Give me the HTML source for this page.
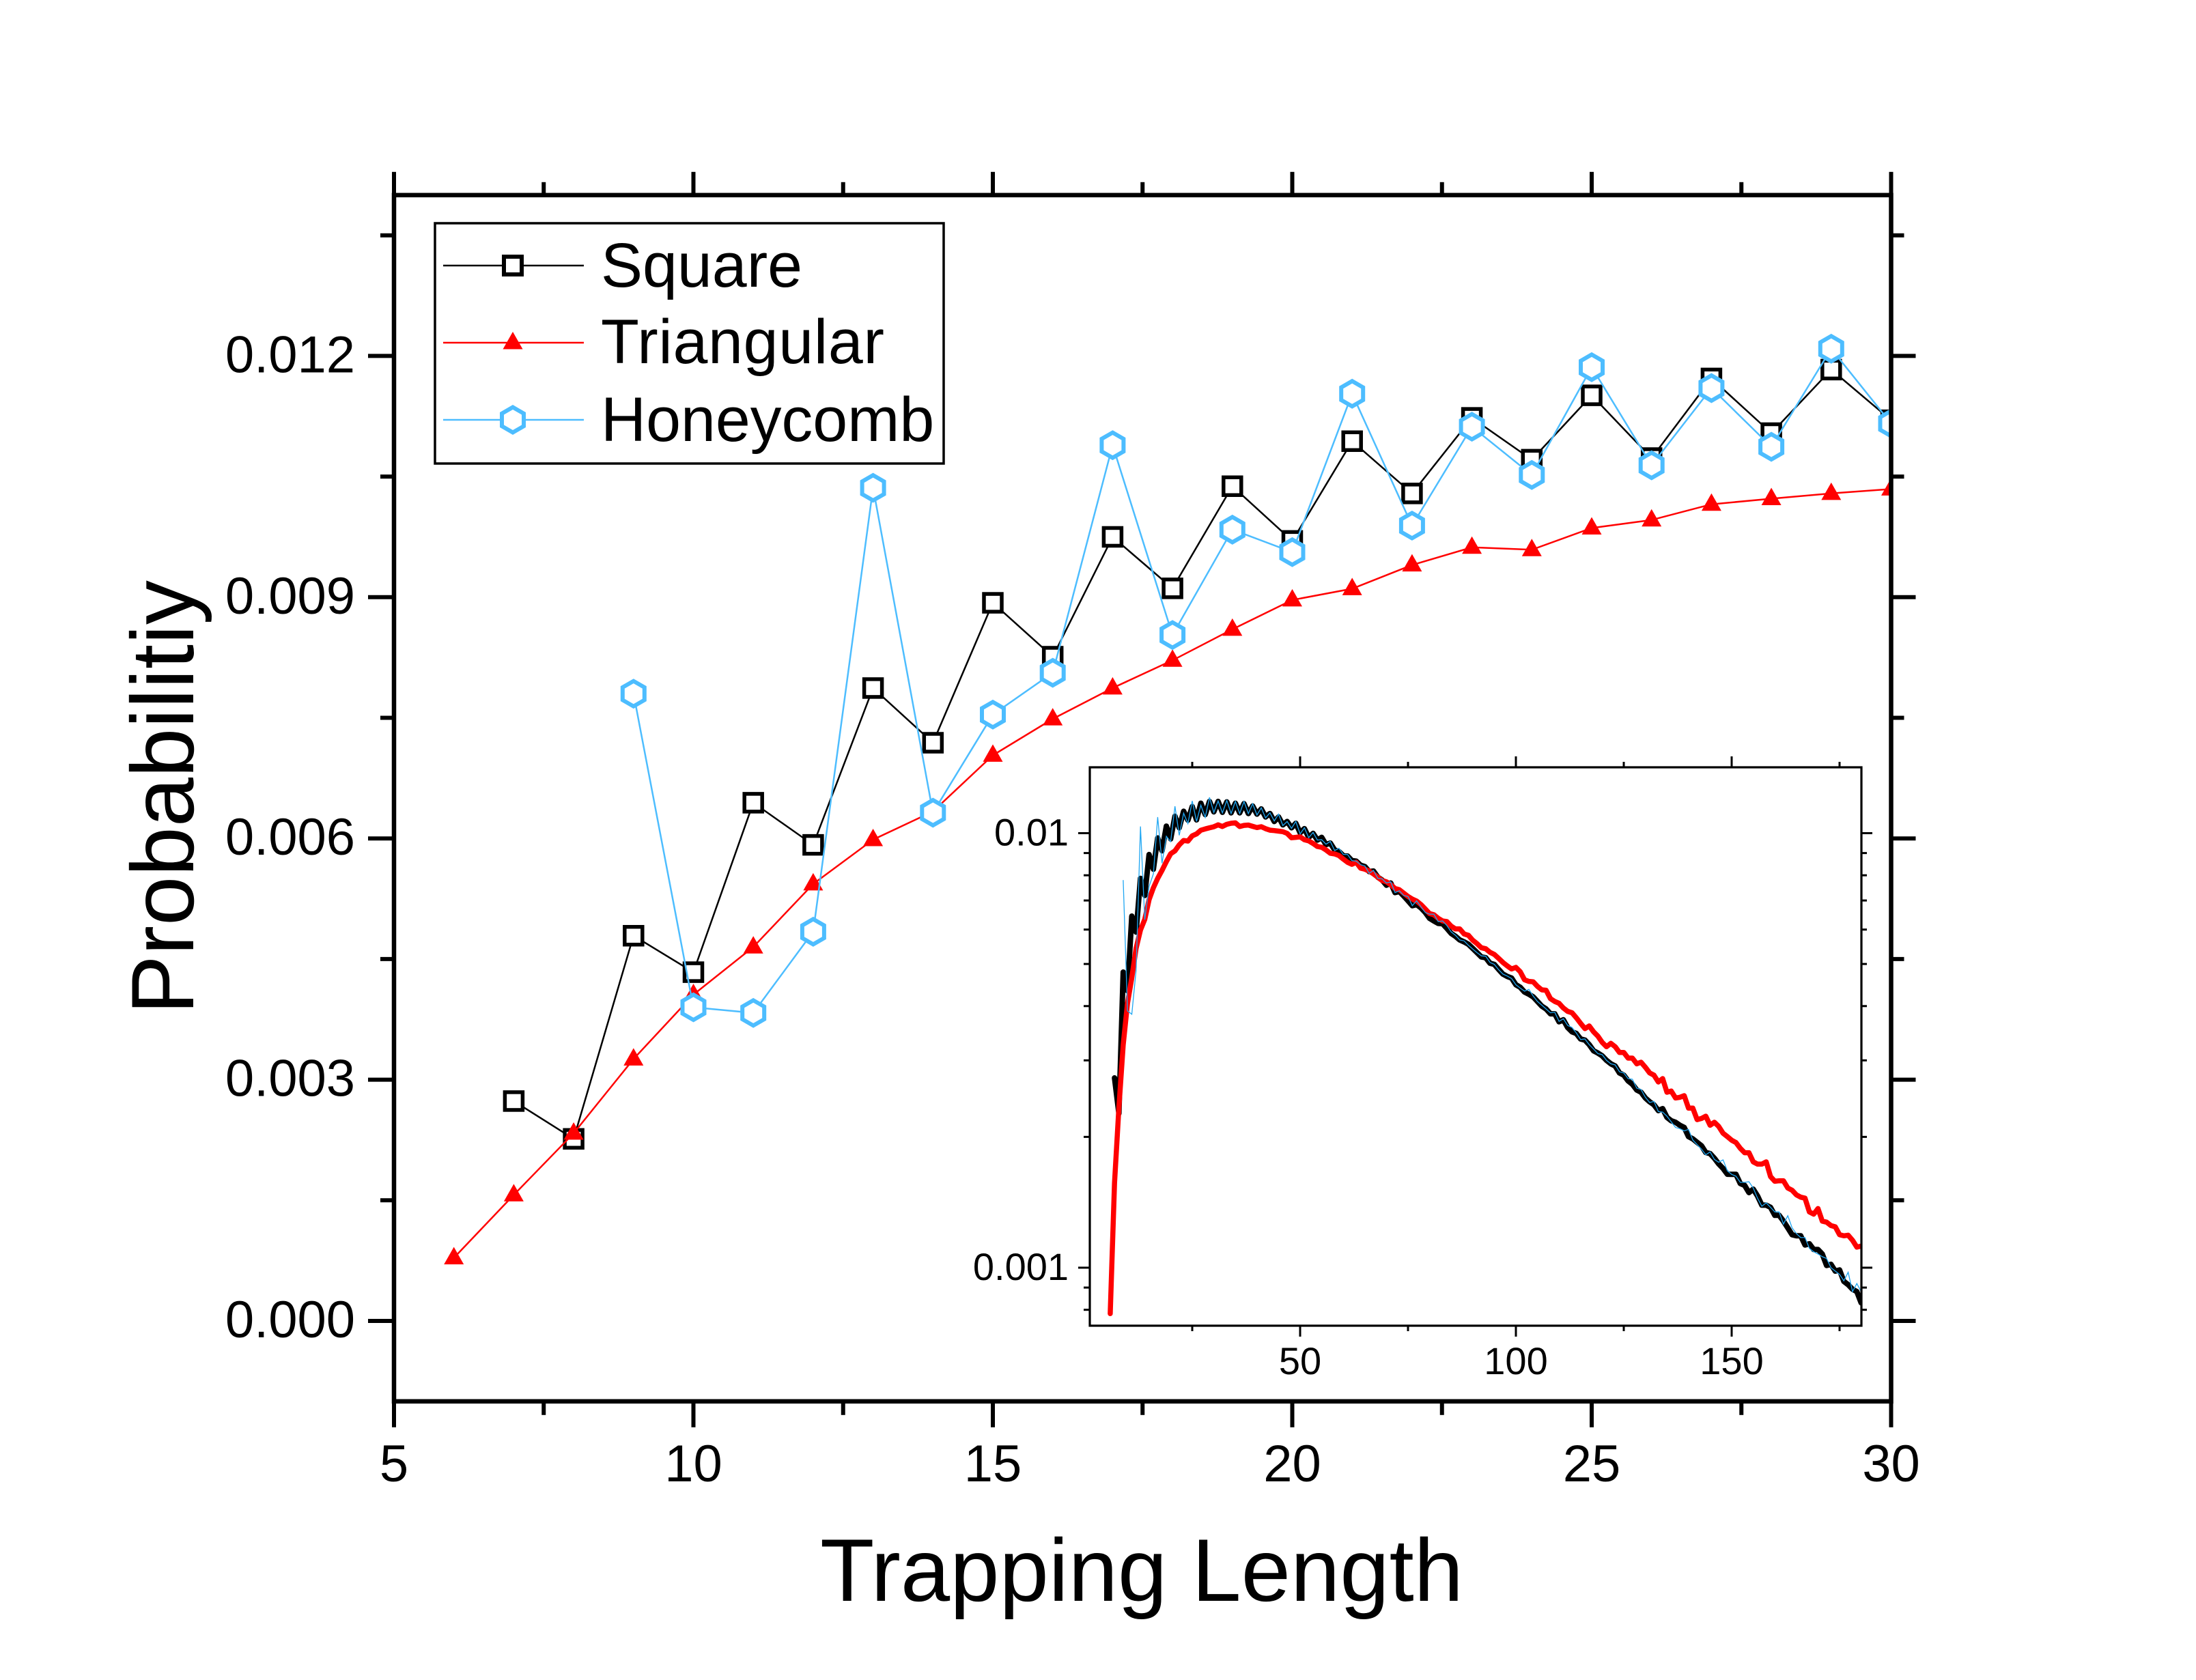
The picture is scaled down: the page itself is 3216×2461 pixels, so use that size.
<!DOCTYPE html>
<html lang="en">
<head>
<meta charset="utf-8">
<title>Probability vs Trapping Length</title>
<style>
html,body{margin:0;padding:0;background:#fff}
svg{display:block}
text{font-family:"Liberation Sans",Arial,sans-serif;fill:#000}
</style>
</head>
<body>
<svg id="chart" xmlns="http://www.w3.org/2000/svg" width="3216" height="2461" viewBox="0 0 3216 2461">
  <defs>
    <clipPath id="main-clip"><rect x="577" y="285" width="2193" height="1767"/></clipPath>
    <clipPath id="inset-clip"><rect x="1596" y="1124" width="1130" height="818"/></clipPath>
  </defs>
  <rect x="0" y="0" width="3216" height="2461" fill="#fff"/>
  <g id="main-series" clip-path="url(#main-clip)"></g>
  <g id="main-axes"></g>
  <text x="1672" y="2345" font-size="130" text-anchor="middle">Trapping Length</text>
  <text x="283" y="1168" font-size="130" text-anchor="middle" transform="rotate(-90 283 1168)">Probabilitiy</text>

  <g>
    <rect x="637" y="327" width="745" height="352" fill="#fff" stroke="#000" stroke-width="3.5"/>
    <g>
      <line x1="649" y1="389" x2="855" y2="389" stroke="#000" stroke-width="2.5"/>
      <rect x="738" y="376" width="26" height="26" fill="#fff" stroke="#000" stroke-width="6"/>
      <text x="880" y="420" font-size="91.5">Square</text>
    </g>
    <g>
      <line x1="649" y1="502" x2="855" y2="502" stroke="#f00" stroke-width="2.5"/>
      <polygon points="751,486 765.5,511.5 736.5,511.5" fill="#f00"/>
      <text x="880" y="532" font-size="91.5" textLength="415" lengthAdjust="spacing">Triangular</text>
    </g>
    <g>
      <line x1="649" y1="615" x2="855" y2="615" stroke="#4dbdff" stroke-width="2.5"/>
      <polygon points="751,596.5 767,605.75 767,624.25 751,633.5 735,624.25 735,605.75" fill="#fff" stroke="#4dbdff" stroke-width="6"/>
      <text x="880" y="646" font-size="91.5">Honeycomb</text>
    </g>
  </g>

  <g id="inset">
    <rect x="1596" y="1124" width="1130" height="818" fill="#fff"/>
    <g id="inset-series" clip-path="url(#inset-clip)"></g>
    <g id="inset-axes"></g>
  </g>
</svg>
<script>
// Main chart data (trapping length -> probability)
const squareLengths = [7,8,9,10,11,12,13,14,15,16,17,18,19,20,21,22,23,24,25,26,27,28,29,30];
const squareValues = [.002734,.002264,.00479,.004337,.006444,.00592,.00787,.00719,.00893,.00826,.00975,.00911,.01038,.0097,.01094,.01029,.01123,.01071,.01151,.01073,.01172,.01104,.01183,.0112];
const triangularLengths = [6,7,8,9,10,11,12,13,14,15,16,17,18,19,20,21,22,23,24,25,26,27,28,29,30];
const triangularValues = [.000784,.001567,.002334,.003257,.004058,.00465,.005434,.005985,.006335,.007034,.007486,.00787,.008215,.0086,.008965,.009105,.0094,.00962,.00959,.00986,.00996,.010155,.010225,.01029,.010345];
const honeycombLengths = [9,10,11,12,13,14,15,16,17,18,19,20,21,22,23,24,25,26,27,28,29,30];
const honeycombValues = [.0078,.0039,.00383,.00484,.01036,.00632,.00754,.00806,.01089,.00853,.00984,.00956,.01153,.00989,.01112,.01052,.01186,.01064,.0116,.01087,.01209,.01116];

// Inset data: continues the series above for lengths 31..180
const insetFirstTailLength = 31;
const insetSquareTail = [
 .01183,.01117,.0118,.01114,.01172,.01114,.01169,.0111,.01155,.01106,.01137,.0109,.0111,.01064,.0109,.01045,.01064,.01029,.01054,.01002,.01024,.00978,.00999,.00964,.00978,.00941,.00949,.00915,.00907,.00888,
 .00886,.00865,.00862,.00844,.00838,.00816,.00818,.00792,.0078,.00759,.00768,.0073,.00734,.00717,.00699,.00681,.00685,.00673,.00657,.00637,.00628,.0062,.00619,.00604,.00588,.00579,
 .00568,.00562,.00555,.00543,.00531,
 .00519,.00517,.00502,.00499,.00486,.00474,.00468,.00464,.00448,.00442,.00431,.00426,.0042,.0041,.004,.00394,.00384,.00384,.00368,.00372,.00357,.00349,.00346,.00336,.00334,.00326,
 .003156,.003118,.003073,.003,.002946,.002911,.002807,.002774,.002691,.002643,.002564,.002534,.002458,.002409,.002371,.0023,.002323,.002219,.002179,.002161,.002127,.002102,.002003,.001979,.001943,.001908,.001841,.00183,.001786,.001733,.001692,.001641,
 .00164,.00164,.001562,.001547,.001489,.001516,.001462,.001393,.001393,.001377,.00132,.00132,.00128,.001235,.001191,.001184,.001184,.001128,.001135,.001101,.001101,.001075,.001012,.001018,.000982,.000988,.00093,.000914,.000892,.000881,.00083];
const insetTriangularTail = [
 .01045,.01036,.01048,.01054,.01056,.01036,.01042,.01044,.01037,.0103,.01035,.01024,.01016,.01014,.01011,.01008,.00999,.00976,.00978,.00981,.00966,.0096,.00947,.00932,.00928,.00915,.00899,.00896,.00888,.00872,
 .00857,.00848,.00857,.00831,.00826,.00818,.00806,.00792,.00778,.00773,.00761,.00746,.00741,.00728,.00715,.00705,.00698,.00685,.00669,.00653,.00649,.00637,.00628,.00626,.00611,.00602,.00602,.00586,
 .00582,.00567,.00557,
 .00545,.00542,.00532,.00526,.00515,.00504,.00495,.00487,.00491,.0048,.0046,.00456,.00455,.00444,.00436,.00435,.00416,.0041,.00406,.00396,.00389,.00386,.00376,.00365,.00355,.0036,.00349,.00341,.0033,
 .003225,.003283,.003225,.003129,.003129,.003036,.003036,.002946,.002971,.002893,.002807,.002774,.002675,.002724,.002534,.002549,.002458,.002467,.002488,.002329,.002329,.002192,.002205,.002232,.002127,.002161,.002114,.002039,.002003,
 .001965,.001941,.001883,.001839,.001839,.001752,.001731,.001731,.001752,.00162,.001581,.001585,.001585,.001525,.001507,.001471,.001453,.001445,.001344,.001328,.001368,.00128,.001273,.00125,.001242,.001191,.001184,.001188,.001156,.001115,.001121];
const insetHoneycombTail = [
 .01186,.01114,.01189,.0111,.01183,.0111,.01183,.01109,.01169,.01101,.01144,.01084,.01114,.01067,.01106,.01041,.01064,.01026,.01064,.00996,.01029,.00976,.01004,.00964,.00966,.00943,.00957,.00912,.00923,.00894,
 .00893,.00865,.00862,.00846,.00841,.00808,.00821,.00787,.00785,.00768,.00773,.0073,.00737,.00719,.00715,.00681,.00699,.00677,.00657,.00651,.00651,.00626,.00628,.00613,.00593,.00582,
 .00568,.00565,.00552,.00541,.00531,
 .00522,.00521,.00504,.00499,.00485,.00474,.00469,.00463,.00448,.0044,.00433,.00437,.00422,.0041,.00402,.00394,.00386,.00387,.00369,.00374,.00361,.00357,.00347,.00335,.00336,.00326,
 .003186,.00311,.003092,.003,.002946,.002928,.002824,.002807,.002724,.002714,.002589,.002571,.002467,.0024,.002414,.002287,.002281,.002232,.002166,.002102,.002089,.002064,.002082,.001967,.001919,.001874,.001819,.001847,.001775,.001748,.001771,.001671,
 .00164,.001624,.001572,.001572,.001577,.001525,.001445,.001385,.00141,.001377,.001344,.001344,.00126,.001317,.001235,.001198,.001173,.001173,.001108,.001088,.001075,.00106,.00105,.001,.000982,.000965,.000933,.000976,.000881,.000919,.000881];

// Tick definitions
const mainXMajorTicks = [5,10,15,20,25,30];
const mainXMinorTicks = [7.5,12.5,17.5,22.5,27.5];
const mainYMajorTicks = [0,.003,.006,.009,.012];
const mainYMinorTicks = [.0015,.0045,.0075,.0105,.0135];
const mainYTickLabels = ["0.000","0.003","0.006","0.009","0.012"];
const insetXMajorTicks = [50,100,150];
const insetXMinorTicks = [25,75,125,175];
const insetYMajorTicks = [.01,.001];
const insetYMinorTicks = [.009,.008,.007,.006,.005,.004,.003,.002,.0009,.0008];
const insetYTickLabels = ["0.01","0.001"];

// Axis functions
const NS = "http://www.w3.org/2000/svg";
function xMain(v){ return 577 + (v - 5) * 87.7; }
function yMain(v){ return 1935 - v * 117800; }
function xInset(v){ return 1904 + (v - 50) * 6.32; }
function yInset(v){ return 1220.5 + 636.5 * (-2 - Math.log10(v)); }

function make(parent, tag, attrs){
  const el = document.createElementNS(NS, tag);
  for (const k in attrs) el.setAttribute(k, attrs[k]);
  parent.appendChild(el);
  return el;
}
function pathFrom(xs, ys, fx, fy){
  return xs.map(function(x, i){ return (i ? "L" : "M") + fx(x).toFixed(1) + " " + fy(ys[i]).toFixed(1); }).join("");
}
function rangeFrom(start, count){
  const out = [];
  for (let i = 0; i < count; i++) out.push(start + i);
  return out;
}

const mainSeries = document.getElementById("main-series");
const mainAxes = document.getElementById("main-axes");
const insetSeries = document.getElementById("inset-series");
const insetAxes = document.getElementById("inset-axes");

// Main series lines and markers
const lineSquare = make(mainSeries, "path", {d: pathFrom(squareLengths, squareValues, xMain, yMain), fill: "none", stroke: "#000", "stroke-width": 2.5});


squareLengths.forEach(function(x, i){
  const m = make(mainSeries, "rect", {x: xMain(x) - 13, y: yMain(squareValues[i]) - 13, width: 26, height: 26, fill: "#fff", stroke: "#000", "stroke-width": 5.5});
  
  
});
const lineTriangular = make(mainSeries, "path", {d: pathFrom(triangularLengths, triangularValues, xMain, yMain), fill: "none", stroke: "#f00", "stroke-width": 2.5});


triangularLengths.forEach(function(x, i){
  const cx = xMain(x), cy = yMain(triangularValues[i]);
  const m = make(mainSeries, "polygon", {points: [cx + "," + (cy - 16), (cx + 14.5) + "," + (cy + 9.5), (cx - 14.5) + "," + (cy + 9.5)].join(" "), fill: "#f00"});
  
  
});
const lineHoneycomb = make(mainSeries, "path", {d: pathFrom(honeycombLengths, honeycombValues, xMain, yMain), fill: "none", stroke: "#4dbdff", "stroke-width": 2.5});


honeycombLengths.forEach(function(x, i){
  const cx = xMain(x), cy = yMain(honeycombValues[i]), r = 18.5, w = 16;
  const pts = [[0,-r],[w,-r/2],[w,r/2],[0,r],[-w,r/2],[-w,-r/2]].map(function(p){ return (cx + p[0]) + "," + (cy + p[1]); }).join(" ");
  const m = make(mainSeries, "polygon", {points: pts, fill: "#fff", stroke: "#4dbdff", "stroke-width": 6});
  
  
});

// Main axes
function drawTick(parent, x1, y1, x2, y2, width){
  return make(parent, "line", {x1: x1, y1: y1, x2: x2, y2: y2, stroke: "#000", "stroke-width": width});
}
const plotLeft = xMain(5), plotRight = xMain(30), plotTop = yMain(.014), plotBottom = yMain(-.001);
const frame = make(mainAxes, "rect", {x: plotLeft, y: plotTop, width: plotRight - plotLeft, height: plotBottom - plotTop, fill: "none", stroke: "#000", "stroke-width": 6.5});


mainXMajorTicks.forEach(function(v){
  const x = xMain(v);
  const b = drawTick(mainAxes, x, plotBottom, x, plotBottom + 38, 6);
  
  
  const t = drawTick(mainAxes, x, plotTop, x, plotTop - 34, 6);
  
  
  const label = make(mainAxes, "text", {x: x, y: 2170, "font-size": 76, "text-anchor": "middle"});
  label.textContent = String(v);
  
  
});
mainXMinorTicks.forEach(function(v){
  const x = xMain(v);
  const b = drawTick(mainAxes, x, plotBottom, x, plotBottom + 20, 6);
  
  
  const t = drawTick(mainAxes, x, plotTop, x, plotTop - 19, 6);
  
  
});
mainYMajorTicks.forEach(function(v, i){
  const y = yMain(v);
  const l = drawTick(mainAxes, plotLeft, y, plotLeft - 38, y, 6);
  
  
  const r = drawTick(mainAxes, plotRight, y, plotRight + 36, y, 6);
  
  
  const label = make(mainAxes, "text", {x: 520, y: y + 24, "font-size": 76, "text-anchor": "end"});
  label.textContent = mainYTickLabels[i];
  
  
});
mainYMinorTicks.forEach(function(v){
  const y = yMain(v);
  const l = drawTick(mainAxes, plotLeft, y, plotLeft - 20, y, 6);
  
  
  const r = drawTick(mainAxes, plotRight, y, plotRight + 19, y, 6);
  
  
});

// Inset series
const tailLengths = rangeFrom(insetFirstTailLength, insetSquareTail.length);
const insetLineSquare = make(insetSeries, "path", {d: pathFrom(squareLengths.concat(tailLengths), squareValues.concat(insetSquareTail), xInset, yInset), fill: "none", stroke: "#000", "stroke-width": 8, "stroke-linejoin": "round", "stroke-linecap": "round"});


const insetLineTriangular = make(insetSeries, "path", {d: pathFrom(triangularLengths.concat(tailLengths), triangularValues.concat(insetTriangularTail), xInset, yInset), fill: "none", stroke: "#f00", "stroke-width": 7.5, "stroke-linejoin": "round", "stroke-linecap": "round"});


const insetLineHoneycomb = make(insetSeries, "path", {d: pathFrom(honeycombLengths.concat(tailLengths), honeycombValues.concat(insetHoneycombTail), xInset, yInset), fill: "none", stroke: "#1fa6f2", "stroke-width": 1.3});



// Inset axes
const inL = 1596, inR = 2726, inT = 1124, inB = 1942;
const inFrame = make(insetAxes, "rect", {x: inL, y: inT, width: inR - inL, height: inB - inT, fill: "none", stroke: "#000", "stroke-width": 3.2});


insetXMajorTicks.forEach(function(v){
  const x = xInset(v);
  const b = drawTick(insetAxes, x, inB, x, inB + 16, 3);
  
  
  const t = drawTick(insetAxes, x, inT, x, inT - 16, 3);
  
  
  const label = make(insetAxes, "text", {x: x, y: 2013, "font-size": 56, "text-anchor": "middle"});
  label.textContent = String(v);
  
  
});
insetXMinorTicks.forEach(function(v){
  const x = xInset(v);
  const b = drawTick(insetAxes, x, inB, x, inB + 8, 3);
  
  
  const t = drawTick(insetAxes, x, inT, x, inT - 8, 3);
  
  
});
insetYMajorTicks.forEach(function(v, i){
  const y = yInset(v);
  const l = drawTick(insetAxes, inL, y, inL - 17, y, 3);
  
  
  const r = drawTick(insetAxes, inR, y, inR + 16, y, 3);
  
  
  const label = make(insetAxes, "text", {x: 1565, y: y + 18, "font-size": 56, "text-anchor": "end"});
  label.textContent = insetYTickLabels[i];
  
  
});
insetYMinorTicks.forEach(function(v){
  const y = yInset(v);
  const l = drawTick(insetAxes, inL, y, inL - 9, y, 3);
  
  
  const r = drawTick(insetAxes, inR, y, inR + 8, y, 3);
  
  
});
</script>
</body>
</html>
